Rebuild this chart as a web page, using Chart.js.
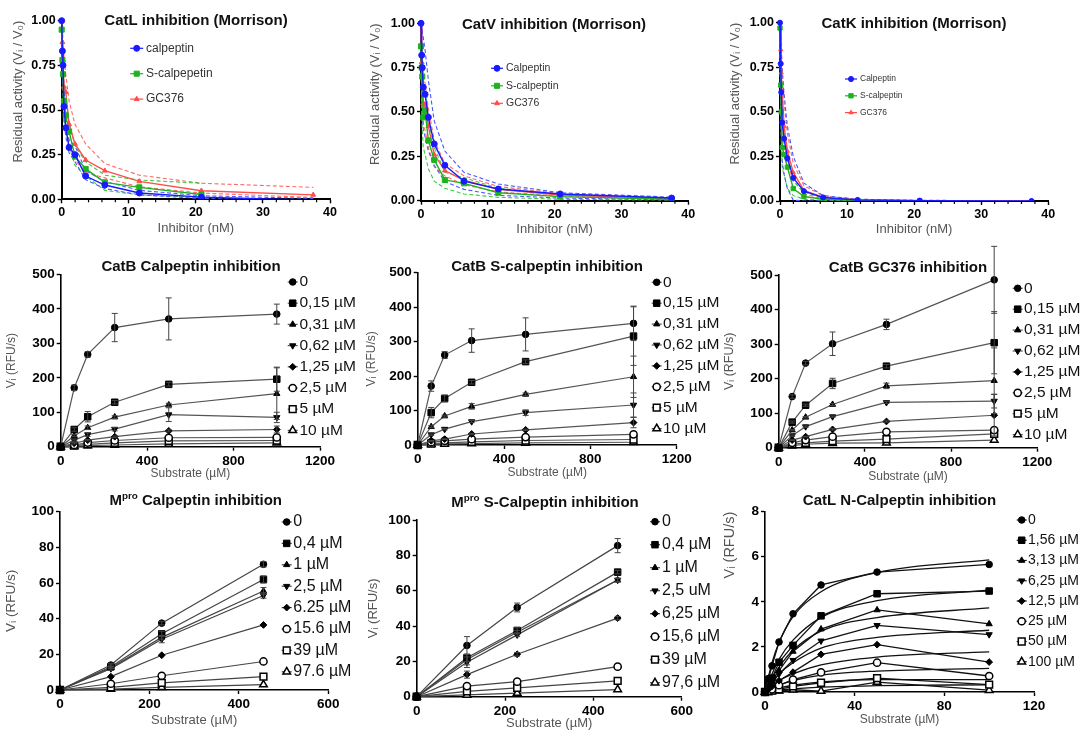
<!DOCTYPE html>
<html>
<head>
<meta charset="utf-8">
<script src="https://cdn.jsdelivr.net/npm/chart.js@4.4.1/dist/chart.umd.min.js"></script>
<style>
  html, body { margin: 0; padding: 0; background: #fff; }
  body { width: 1083px; height: 733px; position: relative; overflow: hidden; }
  .panel { position: absolute; }
  .panel canvas { display: block; }
</style>
</head>
<body>
<div class="panel"><canvas id="c1"></canvas></div>
<div class="panel"><canvas id="c2"></canvas></div>
<div class="panel"><canvas id="c3"></canvas></div>
<div class="panel"><canvas id="c4"></canvas></div>
<div class="panel"><canvas id="c5"></canvas></div>
<div class="panel"><canvas id="c6"></canvas></div>
<div class="panel"><canvas id="c7"></canvas></div>
<div class="panel"><canvas id="c8"></canvas></div>
<div class="panel"><canvas id="c9"></canvas></div>
<script>
// ---- Morrison residual activity (top row) ----
const morrisonConc = [0, 0.106, 0.19, 0.34, 0.61, 1.1, 1.98, 3.57, 6.43, 11.57, 20.83, 37.5];

// rows: calpeptin, S-calpeptin, GC376
const catLResidual = [
  [1.00, 0.83, 0.75, 0.52, 0.40, 0.29, 0.25, 0.13, 0.08, 0.035, 0.012, -0.005],
  [0.95, 0.78, 0.70, 0.55, 0.47, 0.38, 0.24, 0.17, 0.095, 0.067, 0.027, null],
  [1.00, 0.88, 0.78, 0.63, 0.60, 0.42, 0.31, 0.22, 0.16, 0.10, 0.048, 0.025]
];
const catLUpper = [
  [1.00, 0.90, 0.82, 0.62, 0.47, 0.33, 0.30, 0.16, 0.10, 0.05, 0.02, 0.005],
  [1.00, 0.85, 0.78, 0.62, 0.53, 0.43, 0.30, 0.21, 0.135, 0.108, 0.09, null],
  [1.00, 0.95, 0.90, 0.80, 0.70, 0.55, 0.42, 0.31, 0.20, 0.135, 0.09, 0.067]
];
const catLLower = [
  [1.00, 0.76, 0.66, 0.44, 0.35, 0.26, 0.21, 0.11, 0.06, 0.025, 0.005, -0.01],
  [0.92, 0.70, 0.60, 0.45, 0.38, 0.30, 0.19, 0.13, 0.05, 0.025, 0.01, null],
  [1.00, 0.80, 0.68, 0.50, 0.45, 0.32, 0.22, 0.15, 0.12, 0.07, 0.035, 0.01]
];

const catVResidual = [
  [1.00, 0.82, 0.75, 0.64, 0.60, 0.47, 0.32, 0.20, 0.11, 0.066, 0.038, 0.015],
  [0.87, 0.75, 0.70, 0.47, 0.51, 0.34, 0.23, 0.117, 0.098, 0.045, 0.023, 0.008],
  [1.00, 0.78, 0.70, 0.55, 0.54, 0.42, 0.26, 0.17, 0.115, 0.064, 0.032, 0.012]
];
const catVUpper = [
  [1.00, 0.97, 0.95, 0.92, 0.85, 0.68, 0.45, 0.28, 0.16, 0.094, 0.045, 0.02],
  [0.95, 0.82, 0.78, 0.65, 0.62, 0.45, 0.30, 0.16, 0.13, 0.07, 0.035, 0.012],
  [1.00, 0.88, 0.82, 0.70, 0.66, 0.52, 0.34, 0.21, 0.14, 0.08, 0.04, 0.015]
];
const catVLower = [
  [1.00, 0.65, 0.55, 0.40, 0.36, 0.28, 0.20, 0.107, 0.064, 0.03, 0.015, 0.005],
  [0.80, 0.50, 0.40, 0.30, 0.26, 0.18, 0.11, 0.07, 0.038, 0.019, 0.008, 0.003],
  [1.00, 0.65, 0.55, 0.42, 0.40, 0.30, 0.19, 0.14, 0.09, 0.05, 0.025, 0.008]
];

const catKResidual = [
  [1.00, 0.77, 0.61, 0.44, 0.35, 0.24, 0.13, 0.055, 0.02, 0.006, 0.002, 0],
  [0.97, 0.65, 0.50, 0.30, 0.26, 0.19, 0.07, 0.025, 0.01, 0.003, 0, null],
  [1.00, 0.85, 0.72, 0.60, 0.42, 0.28, 0.16, 0.06, 0.02, 0.005, 0.002, 0]
];
const catKUpper = [
  [1.00, 0.92, 0.85, 0.72, 0.60, 0.42, 0.25, 0.10, 0.03, 0.01, 0.004, 0.001],
  [1.00, 0.78, 0.65, 0.45, 0.38, 0.28, 0.11, 0.05, 0.015, 0.005, 0.002, null],
  [1.00, 0.92, 0.85, 0.75, 0.55, 0.38, 0.21, 0.085, 0.03, 0.008, 0.003, 0.001]
];
const catKLower = [
  [1.00, 0.55, 0.38, 0.22, 0.15, 0.07, 0.005, 0, 0, 0, 0, 0],
  [0.90, 0.50, 0.35, 0.18, 0.15, 0.07, 0.03, 0.01, 0.004, 0.001, 0, null],
  [1.00, 0.75, 0.60, 0.45, 0.30, 0.20, 0.12, 0.04, 0.012, 0.003, 0.001, 0]
];

// ---- CatB substrate kinetics (middle row) ----
const catBSubstrate = [0, 62.5, 125, 250, 500, 1000];
const catBConcLabels = ['0', '0,15 µM', '0,31 µM', '0,62 µM', '1,25 µM', '2,5 µM', '5 µM', '10 µM'];

const catBCalpeptin = [
  [0, 171, 268, 346, 371, 385],
  [0, 50, 87, 129, 181, 196],
  [0, 32, 55, 86, 121, 154],
  [0, 19, 35, 51, 93, 85],
  [0, 10, 19, 29, 46, 50],
  [0, 5, 12, 18, 26, 27],
  [0, 3, 7, 11, 17, 18],
  [0, 1, 3, 5, 8, 11]
];
const catBCalpeptinErr = [
  [0, 8, 8, 41, 61, 29],
  [0, 5, 15, 5, 5, 35],
  [0, 3, 5, 4, 5, 75],
  [0, 3, 5, 5, 20, 15],
  [0, 2, 2, 2, 3, 10]
];

const catBSCalpeptin = [
  [0, 171, 261, 303, 321, 353],
  [0, 94, 135, 182, 242, 316],
  [0, 53, 84, 112, 147, 198],
  [0, 30, 46, 68, 94, 116],
  [0, 12, 17, 32, 44, 65],
  [0, 8, 12, 17, 23, 31],
  [0, 4, 6, 9, 13, 16],
  [0, 2, 3, 4, 6, 8]
];
const catBSCalpeptinErr = [
  [0, 15, 10, 34, 48, 50],
  [0, 15, 10, 5, 5, 85],
  [0, 3, 3, 8, 4, 60],
  [0, 2, 2, 3, 8, 35],
  [0, 1, 1, 2, 2, 15]
];

const catBGC376 = [
  [0, 148, 245, 301, 357, 486],
  [0, 74, 123, 186, 236, 304],
  [0, 51, 88, 125, 179, 194],
  [0, 35, 61, 90, 131, 135],
  [0, 22, 32, 53, 76, 94],
  [0, 14, 22, 32, 46, 51],
  [0, 10, 14, 19, 25, 40],
  [0, 6, 10, 13, 14, 22]
];
const catBGC376Err = [
  [0, 5, 5, 34, 15, 97],
  [0, 3, 3, 15, 5, 90],
  [0, 2, 2, 3, 8, 95],
  [0, 2, 2, 2, 3, 20],
  [0, 1, 1, 2, 2, 60]
];

// ---- Mpro and CatL N-calpeptin (bottom row) ----
const mproSubstrate = [0, 113.75, 227.5, 455];
const mproCalpLabels = ['0', '0,4 µM', '1 µM', '2,5 µM', '6.25 µM', '15.6 µM', '39 µM', '97.6 µM'];
const mproSCalpLabels = ['0', '0,4 µM', '1 µM', '2,5 uM', '6,25 µM', '15,6 µM', '39 µM', '97,6 µM'];

const mproCalpeptin = [
  [0, 14, 37.5, 70.5],
  [0, 13, 31.5, 62],
  [0, 12.5, 29.5, 55.5],
  [0, 12, 28.5, 53],
  [0, 7.5, 19.5, 36.5],
  [0, 3.5, 8, 16],
  [0, 1.5, 4, 7.5],
  [0, 0.5, 1.5, 3]
];
const mproCalpeptinErr = [
  [0, 1, 1, 1.5],
  [0, 1, 1.5, 2],
  [0, 0.5, 1, 2],
  [0, 1, 2, 1.5]
];

const mproSCalpeptin = [
  [0, 29, 50.5, 85.5],
  [0, 22, 37.5, 70.5],
  [0, 21, 36.5, 66],
  [0, 19.5, 35, 66],
  [0, 12.5, 24, 44.5],
  [0, 6, 8.5, 17],
  [0, 3, 5, 9],
  [0, 1, 2, 4]
];
const mproSCalpeptinErr = [
  [0, 5, 2.5, 4],
  [0, 2, 1.5, 1],
  [0, 3, 1, 1],
  [0, 3, 1, 1],
  [0, 2, 1, 1]
];

const catLNSubstrate = [0, 1.56, 3.125, 6.25, 12.5, 25, 50, 100];
const catLNLabels = ['0', '1,56 µM', '3,13 µM', '6,25 µM', '12,5 µM', '25 µM', '50 µM', '100 µM'];
const catLNCalpeptin = [
  [0, 0.60, 1.16, 2.22, 3.47, 4.75, 5.32, 5.66],
  [0, 0.35, 0.62, 1.32, 2.07, 3.38, 4.36, 4.48],
  [0, 0.25, 0.50, 0.95, 1.80, 2.79, 3.64, 3.02],
  [0, 0.18, 0.38, 0.80, 1.41, 2.27, 2.96, 2.55],
  [0, 0.12, 0.25, 0.50, 0.88, 1.67, 2.10, 1.33],
  [0, 0.06, 0.12, 0.30, 0.55, 0.87, 1.30, 0.71],
  [0, 0.03, 0.06, 0.12, 0.25, 0.41, 0.62, 0.33],
  [0, 0.02, 0.03, 0.05, 0.10, 0.04, 0.44, 0.08]
];
// Michaelis-Menten fit curves, read at these substrate levels
const catLNFitSubstrate = [0, 3.125, 6.25, 12.5, 25, 50, 100];
const catLNFit = [
  [0, 1.30, 2.20, 3.35, 4.45, 5.30, 5.86],
  [0, 0.80, 1.45, 2.30, 3.30, 4.05, 4.52],
  [0, 0.60, 1.10, 1.85, 2.70, 3.30, 3.73],
  [0, 0.45, 0.80, 1.30, 1.95, 2.42, 2.74],
  [0, 0.28, 0.50, 0.80, 1.20, 1.55, 1.78],
  [0, 0.17, 0.30, 0.50, 0.75, 0.93, 1.05],
  [0, 0.10, 0.18, 0.30, 0.45, 0.55, 0.55],
  [0, 0.05, 0.08, 0.14, 0.22, 0.28, 0.32]
];

Chart.defaults.font.family = '"Liberation Sans", Arial, Helvetica, sans-serif';
Chart.defaults.color = '#000';

const FAMILY = Chart.defaults.font.family;

const morrisonStyles = [
  { color: '#1a1aff', dash: '#4d58ff', style: 'circle', r: 3 },
  { color: '#1db31d', dash: '#3ccc3c', style: 'rect', r: 3.6 },
  { color: '#ff4d4d', dash: '#ff6a6a', style: 'triangle', r: 2.8 }
];

const kineticMarkers = [
  { style: 'circle', r: 3.3, fill: '#000' },
  { style: 'rect', r: 4.6, fill: '#000' },
  { style: 'triangle', r: 3.6, fill: '#000' },
  { style: 'triangle', r: 3.6, fill: '#000', rot: 180 },
  { style: 'rectRot', r: 3.4, fill: '#000' },
  { style: 'circle', r: 3.6, fill: '#fff', open: true },
  { style: 'rect', r: 4.8, fill: '#fff', open: true },
  { style: 'triangle', r: 4.4, fill: '#fff', open: true }
];

const toPoints = (xs, ys) =>
  xs.map((x, i) => ({ x, y: ys[i] })).filter(p => p.y !== null && p.y !== undefined);

// titles, legends and minor ticks drawn on top of each panel
const decorPlugin = {
  id: 'decor',
  afterDraw(chart, args, o) {
    const ctx = chart.ctx;
    const ox = o.ox, oy = o.oy;
    ctx.save();

    if (o.minorStep) {
      const xs = chart.scales.x, bottom = chart.chartArea.bottom;
      ctx.strokeStyle = '#000';
      ctx.lineWidth = 1.2;
      for (let v = xs.min + o.minorStep; v < xs.max; v += o.minorStep) {
        if (Math.abs(v % o.majorStep) < 1e-9) continue;
        const px = xs.getPixelForValue(v);
        ctx.beginPath();
        ctx.moveTo(px, bottom);
        ctx.lineTo(px, bottom + 3);
        ctx.stroke();
      }
    }

    if (o.title) {
      const t = o.title;
      const fontFor = p => 'bold ' + (p.sup ? t.size * 0.66 : t.size) + 'px ' + FAMILY;
      let total = 0;
      t.parts.forEach(p => { ctx.font = fontFor(p); total += ctx.measureText(p.text).width; });
      let x = t.x - ox - total / 2;
      ctx.fillStyle = '#111';
      ctx.textBaseline = 'middle';
      ctx.textAlign = 'left';
      t.parts.forEach(p => {
        ctx.font = fontFor(p);
        ctx.fillText(p.text, x, t.y - oy - (p.sup ? t.size * 0.3 : 0));
        x += ctx.measureText(p.text).width;
      });
    }

    if (o.legend) {
      const L = o.legend;
      let row = 0;
      ctx.textBaseline = 'middle';
      ctx.textAlign = 'left';
      chart.data.datasets.forEach(ds => {
        if (!ds.legendLabel) return;
        const y = L.y0 - oy + row * L.dy, mx = L.mx - ox;
        ctx.setLineDash([]);
        ctx.strokeStyle = ds.borderColor;
        ctx.lineWidth = 1.2;
        ctx.beginPath();
        ctx.moveTo(mx - L.lw, y);
        ctx.lineTo(mx + L.lw, y);
        ctx.stroke();
        ctx.fillStyle = ds.pointBackgroundColor;
        ctx.strokeStyle = ds.pointBorderColor;
        ctx.lineWidth = ds.pointBorderWidth;
        Chart.helpers.drawPoint(ctx, {
          pointStyle: ds.pointStyle,
          rotation: ds.pointRotation || 0,
          radius: ds.legendRadius,
          borderWidth: ds.pointBorderWidth
        }, mx, y);
        ctx.fillStyle = L.color;
        ctx.font = L.size + 'px ' + FAMILY;
        ctx.fillText(ds.legendLabel, L.tx - ox, y);
        row++;
      });
    }
    ctx.restore();
  }
};

// vertical SD bars with caps
const errorBarPlugin = {
  id: 'errorBars',
  afterDatasetsDraw(chart) {
    const ctx = chart.ctx, ys = chart.scales.y;
    chart.data.datasets.forEach((ds, di) => {
      if (!ds.errorBars) return;
      const meta = chart.getDatasetMeta(di);
      ctx.save();
      ctx.strokeStyle = '#444';
      ctx.lineWidth = 1;
      meta.data.forEach((pt, i) => {
        const e = ds.errorBars[i];
        if (!e) return;
        const v = ds.data[i].y;
        const top = ys.getPixelForValue(v + e), bot = ys.getPixelForValue(Math.max(0, v - e));
        ctx.beginPath();
        ctx.moveTo(pt.x, top); ctx.lineTo(pt.x, bot);
        ctx.moveTo(pt.x - 3, top); ctx.lineTo(pt.x + 3, top);
        ctx.moveTo(pt.x - 3, bot); ctx.lineTo(pt.x + 3, bot);
        ctx.stroke();
      });
      ctx.restore();
    });
  }
};

function morrisonDatasets(main, upper, lower, labels, scale) {
  const clip = { left: 6, top: 6, right: 6, bottom: 0 };
  const sets = main.map((vals, i) => {
    const s = morrisonStyles[i];
    return {
      legendLabel: labels[i],
      legendRadius: s.r * scale,
      data: toPoints(morrisonConc, vals),
      showLine: true,
      borderColor: s.color,
      borderWidth: 1.4,
      pointStyle: s.style,
      pointRadius: c => (c.raw && c.raw.y < 0 ? 0 : s.r * scale),
      pointBackgroundColor: s.color,
      pointBorderColor: s.color,
      pointBorderWidth: 1,
      clip
    };
  });
  [upper, lower].forEach(band => band.forEach((vals, i) => {
    sets.push({
      data: toPoints(morrisonConc, vals),
      showLine: true,
      borderColor: morrisonStyles[i].dash,
      borderWidth: 1.1,
      borderDash: [4, 2.5],
      pointRadius: 0,
      clip
    });
  }));
  return sets;
}

function kineticDatasets(xs, rows, errs, labels, lineColor) {
  return rows.map((row, i) => {
    const m = kineticMarkers[i];
    return {
      legendLabel: labels[i],
      legendRadius: m.r,
      data: toPoints(xs, row),
      showLine: true,
      borderColor: lineColor,
      borderWidth: 1.2,
      pointStyle: m.style,
      pointRadius: m.r,
      pointRotation: m.rot || 0,
      pointBackgroundColor: m.fill,
      pointBorderColor: '#000',
      pointBorderWidth: m.open ? 1.5 : 1,
      errorBars: errs[i] || null,
      clip: false
    };
  });
}

function axis(o) {
  return {
    type: 'linear',
    min: o.min,
    max: o.max,
    afterFit: o.fit,
    ticks: {
      stepSize: o.step,
      autoSkip: false,
      maxRotation: 0,
      padding: 2,
      color: '#000',
      font: { size: o.tickSize, weight: 'bold' },
      callback: o.format || (v => String(v))
    },
    grid: { drawOnChartArea: false, tickLength: 4, tickColor: '#000', tickWidth: 1.4 },
    border: { color: '#000', width: o.lineWidth },
    title: {
      display: true,
      text: o.title,
      color: '#555',
      font: { size: o.titleSize },
      padding: 0,
      align: o.align || 'center'
    }
  };
}

function makePanel(id, p) {
  const canvas = document.getElementById(id);
  const cell = p.cell;
  canvas.parentElement.style.left = cell.x + 'px';
  canvas.parentElement.style.top = cell.y + 'px';
  canvas.width = cell.w;
  canvas.height = cell.h;

  const lhY = p.y.titleSize * 1.2, lhX = p.x.titleSize * 1.2;
  const padLeft = p.yTitleX - lhY / 2 - cell.x;
  const yWidth = p.area.l - cell.x - padLeft;
  const padBottom = cell.y + cell.h - (p.xTitleY + lhX / 2);
  const xHeight = p.xTitleY + lhX / 2 - p.area.b;

  new Chart(canvas, {
    type: 'scatter',
    data: { datasets: p.datasets },
    options: {
      responsive: false,
      animation: false,
      events: [],
      layout: {
        padding: {
          left: padLeft,
          right: cell.x + cell.w - p.area.r,
          top: p.area.t - cell.y,
          bottom: padBottom
        }
      },
      plugins: {
        legend: { display: false },
        tooltip: { enabled: false },
        decor: Object.assign({ ox: cell.x, oy: cell.y }, p.decor)
      },
      scales: {
        x: axis(Object.assign({ fit: s => { s.height = xHeight; } }, p.x)),
        y: axis(Object.assign({ fit: s => { s.width = yWidth; } }, p.y))
      }
    },
    plugins: [decorPlugin, errorBarPlugin]
  });
}

const residualAxis = {
  min: 0, max: 1, step: 0.25, tickSize: 12.5, lineWidth: 2,
  title: 'Residual activity (Vᵢ / V₀)', titleSize: 13, align: 'end',
  format: v => v.toFixed(2)
};
const inhibitorAxis = { min: 0, max: 40, step: 10, tickSize: 12.5, lineWidth: 2, title: 'Inhibitor (nM)', titleSize: 13 };

// top row
makePanel('c1', {
  cell: { x: 0, y: 0, w: 380, h: 245 },
  area: { l: 61.7, t: 20.7, r: 330, b: 199.3 },
  yTitleX: 18.3, xTitleY: 228,
  x: inhibitorAxis, y: residualAxis,
  datasets: morrisonDatasets(catLResidual, catLUpper, catLLower, ['calpeptin', 'S-calpepetin', 'GC376'], 1),
  decor: {
    minorStep: 2, majorStep: 10,
    title: { parts: [{ text: 'CatL inhibition (Morrison)' }], x: 196, y: 21, size: 15 },
    legend: { mx: 136.7, lw: 6.5, tx: 146, y0: 48.3, dy: 25.4, size: 12, color: '#333' }
  }
});
makePanel('c2', {
  cell: { x: 360, y: 0, w: 380, h: 245 },
  area: { l: 421, t: 23.3, r: 688.3, b: 200.7 },
  yTitleX: 375, xTitleY: 229,
  x: inhibitorAxis, y: residualAxis,
  datasets: morrisonDatasets(catVResidual, catVUpper, catVLower, ['Calpeptin', 'S-calpeptin', 'GC376'], 1),
  decor: {
    minorStep: 2, majorStep: 10,
    title: { parts: [{ text: 'CatV inhibition (Morrison)' }], x: 554, y: 25, size: 15 },
    legend: { mx: 497, lw: 6, tx: 506, y0: 68.3, dy: 17.5, size: 10.5, color: '#333' }
  }
});
makePanel('c3', {
  cell: { x: 720, y: 0, w: 363, h: 245 },
  area: { l: 780, t: 22.7, r: 1048.3, b: 201 },
  yTitleX: 735, xTitleY: 229,
  x: inhibitorAxis, y: residualAxis,
  datasets: morrisonDatasets(catKResidual, catKUpper, catKLower, ['Calpeptin', 'S-calpeptin', 'GC376'], 0.85),
  decor: {
    minorStep: 2, majorStep: 10,
    title: { parts: [{ text: 'CatK inhibition (Morrison)' }], x: 914, y: 24, size: 15 },
    legend: { mx: 851, lw: 6, tx: 860, y0: 79, dy: 16.8, size: 8.5, color: '#333' }
  }
});

// middle row
const catBX = { min: 0, max: 1200, step: 400, tickSize: 13.5, lineWidth: 1.6, title: 'Substrate (µM)', titleSize: 12 };
const catBY = { min: 0, max: 500, step: 100, tickSize: 13.5, lineWidth: 1.6, title: 'Vᵢ (RFU/s)', titleSize: 12 };

makePanel('c4', {
  cell: { x: 0, y: 245, w: 380, h: 245 },
  area: { l: 60.7, t: 274.5, r: 320, b: 446.7 },
  yTitleX: 11.7, xTitleY: 474,
  x: catBX, y: catBY,
  datasets: kineticDatasets(catBSubstrate, catBCalpeptin, catBCalpeptinErr, catBConcLabels, '#555'),
  decor: {
    title: { parts: [{ text: 'CatB Calpeptin inhibition' }], x: 191, y: 266.7, size: 15 },
    legend: { mx: 292.7, lw: 5, tx: 299.5, y0: 282, dy: 21.2, size: 15.5, color: '#111' }
  }
});
makePanel('c5', {
  cell: { x: 360, y: 245, w: 380, h: 245 },
  area: { l: 417.7, t: 272.7, r: 676.7, b: 445 },
  yTitleX: 371.7, xTitleY: 473,
  x: catBX, y: catBY,
  datasets: kineticDatasets(catBSubstrate, catBSCalpeptin, catBSCalpeptinErr, catBConcLabels, '#555'),
  decor: {
    title: { parts: [{ text: 'CatB S-calpeptin inhibition' }], x: 547, y: 267.3, size: 15 },
    legend: { mx: 656.7, lw: 5, tx: 663, y0: 282.3, dy: 20.9, size: 15.5, color: '#111' }
  }
});
makePanel('c6', {
  cell: { x: 720, y: 245, w: 363, h: 245 },
  area: { l: 778.7, t: 275, r: 1037.3, b: 447.7 },
  yTitleX: 730, xTitleY: 476.7,
  x: catBX, y: Object.assign({}, catBY, { titleSize: 12.5 }),
  datasets: kineticDatasets(catBSubstrate, catBGC376, catBGC376Err, catBConcLabels, '#555'),
  decor: {
    title: { parts: [{ text: 'CatB GC376 inhibition' }], x: 908, y: 268.3, size: 15 },
    legend: { mx: 1017.7, lw: 5, tx: 1024, y0: 288.3, dy: 20.9, size: 15.5, color: '#111' }
  }
});

// bottom row
const mproX = { min: 0, max: 600, step: 200, tickSize: 13.5, lineWidth: 1.6, title: 'Substrate (µM)', titleSize: 13 };
const mproY = { min: 0, max: 100, step: 20, tickSize: 13.5, lineWidth: 1.6, title: 'Vᵢ (RFU/s)', titleSize: 13.5 };

makePanel('c7', {
  cell: { x: 0, y: 490, w: 380, h: 243 },
  area: { l: 60, t: 511.7, r: 328.3, b: 690 },
  yTitleX: 11.7, xTitleY: 720,
  x: mproX, y: mproY,
  datasets: kineticDatasets(mproSubstrate, mproCalpeptin, mproCalpeptinErr, mproCalpLabels, '#444'),
  decor: {
    title: { parts: [{ text: 'M' }, { text: 'pro', sup: true }, { text: ' Calpeptin inhibition' }], x: 195.7, y: 500.7, size: 15 },
    legend: { mx: 286.7, lw: 5, tx: 293.3, y0: 522, dy: 21.4, size: 16, color: '#111' }
  }
});
makePanel('c8', {
  cell: { x: 360, y: 490, w: 380, h: 243 },
  area: { l: 416.7, t: 520, r: 681.7, b: 696.7 },
  yTitleX: 373.3, xTitleY: 723.3,
  x: mproX, y: Object.assign({}, mproY, { titleSize: 13 }),
  datasets: kineticDatasets(mproSubstrate, mproSCalpeptin, mproSCalpeptinErr, mproSCalpLabels, '#444'),
  decor: {
    title: { parts: [{ text: 'M' }, { text: 'pro', sup: true }, { text: ' S-Calpeptin inhibition' }], x: 545, y: 502.7, size: 15 },
    legend: { mx: 655, lw: 5, tx: 662, y0: 521.7, dy: 23, size: 16, color: '#111' }
  }
});

const catLNSets = kineticDatasets(catLNSubstrate, catLNCalpeptin, [], catLNLabels, '#111');
catLNSets.forEach(ds => { ds.borderWidth = 1.3; });
catLNFit.forEach(vals => {
  catLNSets.push({
    data: toPoints(catLNFitSubstrate, vals),
    showLine: true,
    borderColor: '#111',
    borderWidth: 1.3,
    cubicInterpolationMode: 'monotone',
    pointRadius: 0,
    clip: false
  });
});
makePanel('c9', {
  cell: { x: 720, y: 490, w: 363, h: 243 },
  area: { l: 765, t: 511.7, r: 1034, b: 692 },
  yTitleX: 730, xTitleY: 720,
  x: { min: 0, max: 120, step: 40, tickSize: 13.5, lineWidth: 1.6, title: 'Substrate (µM)', titleSize: 12 },
  y: { min: 0, max: 8, step: 2, tickSize: 13.5, lineWidth: 1.6, title: 'Vᵢ (RFU/s)', titleSize: 14.5, align: 'end' },
  datasets: catLNSets,
  decor: {
    title: { parts: [{ text: 'CatL N-Calpeptin inhibition' }], x: 899.5, y: 500.7, size: 15 },
    legend: { mx: 1021.7, lw: 5, tx: 1028, y0: 520, dy: 20.25, size: 14, color: '#111' }
  }
});
</script>
</body>
</html>
